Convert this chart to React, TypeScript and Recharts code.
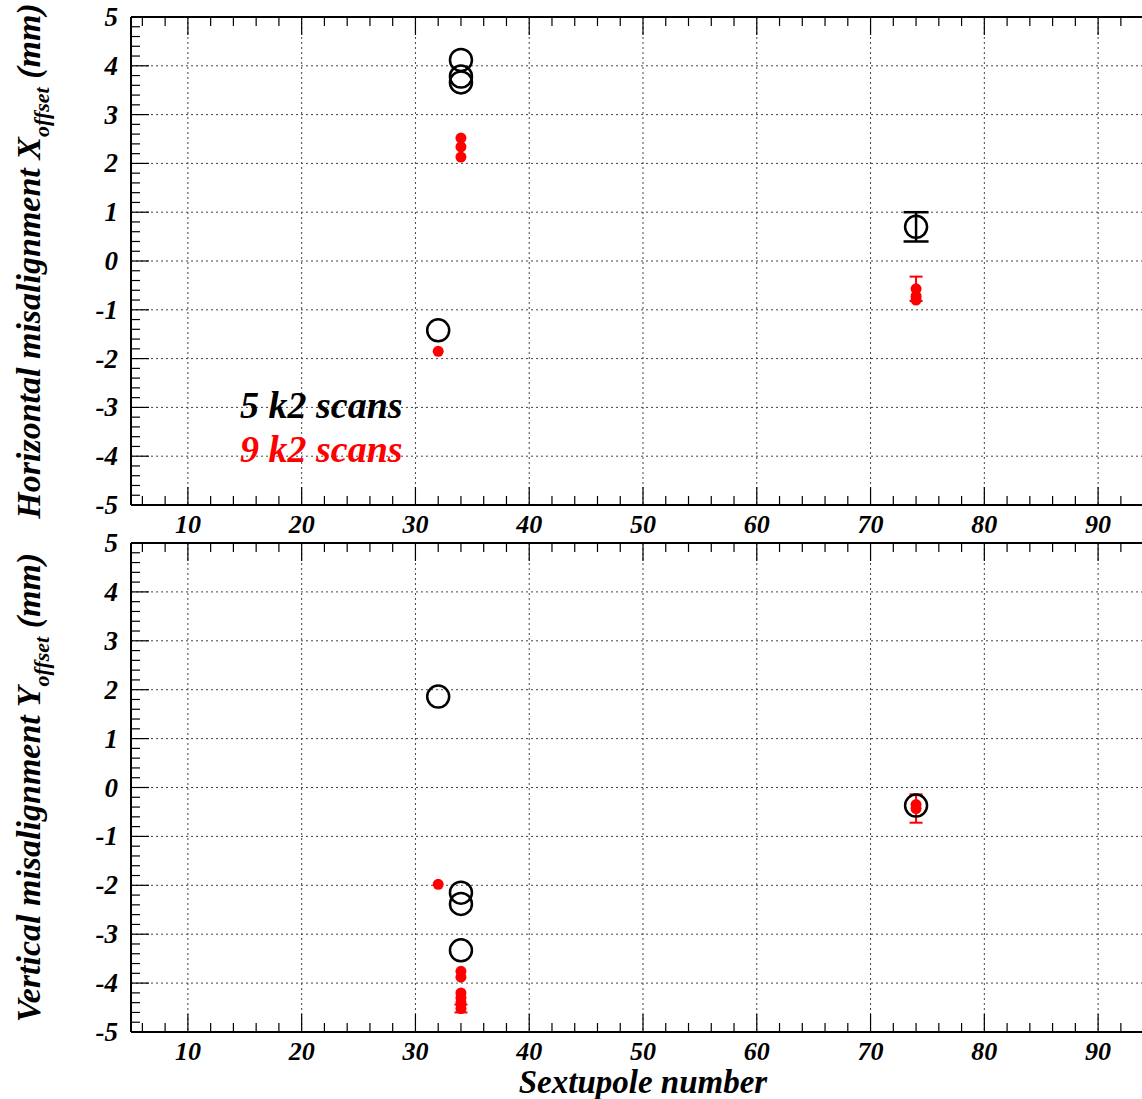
import React from "react";
import {
  ScatterChart,
  Scatter,
  XAxis,
  YAxis,
  CartesianGrid,
  ErrorBar,
  Legend,
} from "recharts";

const FONT = "'Liberation Serif', 'Times New Roman', serif";

// sextupole numbers and offsets (mm), horizontal plane
const horizX5 = [32, 34, 34, 34, 74];
const horizY5 = [-1.42, 4.12, 3.78, 3.66, 0.7];
const horizErr5 = [0, 0, 0, 0, 0.3];

const horizX9 = [32, 34, 34, 34, 74, 74, 74];
const horizY9 = [-1.85, 2.52, 2.34, 2.13, -0.57, -0.72, -0.8];
const horizErr9 = [0, 0, 0, 0, 0.25, 0, 0];

// vertical plane
const vertX5 = [32, 34, 34, 34, 74];
const vertY5 = [1.86, -2.15, -2.38, -3.33, -0.37];
const vertErr5 = [0, 0, 0, 0, 0];

const vertX9 = [32, 34, 34, 34, 34, 34, 34, 74, 74];
const vertY9 = [-1.98, -3.76, -3.88, -4.2, -4.3, -4.4, -4.52, -0.35, -0.43];
const vertErr9 = [0, 0, 0, 0, 0, 0, 0.08, 0, 0.29];

const xMajorTicks = [10, 20, 30, 40, 50, 60, 70, 80, 90];
const yMajorTicks = [-4, -3, -2, -1, 0, 1, 2, 3, 4];
const legendItems = [
  { label: "5 k2 scans", color: "#000000" },
  { label: "9 k2 scans", color: "#ff0000" },
];

const xTicks: number[] = [];
for (let v = 6; v <= 94; v += 2) xTicks.push(v);
const yTicks: number[] = [];
for (let i = -25; i <= 25; i++) yTicks.push(i / 5);

const toPoints = (xs: number[], ys: number[], errs: number[]) =>
  xs.map((x, i) => ({ x, y: ys[i], err: errs[i] || undefined }));

const isMajorX = (v: number) => v % 10 === 0;
const isMajorY = (v: number) => Math.abs(v - Math.round(v)) < 1e-6;

const BottomTick = (props: any) => {
  const { x, y, payload } = props;
  const major = isMajorX(payload.value);
  return (
    <g>
      <line x1={x} x2={x} y1={y} y2={y - (major ? 18 : 9)} stroke="#000" strokeWidth={1.2} />
      {major && (
        <text
          x={x}
          y={y + 28}
          textAnchor="middle"
          fontFamily={FONT}
          fontWeight="bold"
          fontStyle="italic"
          fontSize={26}
          fill="#000"
        >
          {payload.value}
        </text>
      )}
    </g>
  );
};

const TopTick = (props: any) => {
  const { x, y, payload } = props;
  const major = isMajorX(payload.value);
  return <line x1={x} x2={x} y1={y} y2={y + (major ? 18 : 9)} stroke="#000" strokeWidth={1.2} />;
};

const LeftTick = (props: any) => {
  const { x, y, payload } = props;
  const major = isMajorY(payload.value);
  return (
    <g>
      <line x1={x} x2={x + (major ? 18 : 9)} y1={y} y2={y} stroke="#000" strokeWidth={1.2} />
      {major && (
        <text
          x={x - 13}
          y={y + 9}
          textAnchor="end"
          fontFamily={FONT}
          fontWeight="bold"
          fontStyle="italic"
          fontSize={27}
          fill="#000"
        >
          {Math.round(payload.value)}
        </text>
      )}
    </g>
  );
};

const OpenCircle = (props: any) => (
  <circle cx={props.cx} cy={props.cy} r={11} fill="none" stroke="#000" strokeWidth={2.5} />
);
const RedDot = (props: any) => <circle cx={props.cx} cy={props.cy} r={5.5} fill="#ff0000" />;

const YTitle = ({ viewBox, main, letter }: any) => {
  const cx = 40;
  const cy = viewBox.y + viewBox.height / 2;
  return (
    <text
      x={cx}
      y={cy}
      transform={`rotate(-90 ${cx} ${cy})`}
      textAnchor="middle"
      fontFamily={FONT}
      fontWeight="bold"
      fontStyle="italic"
      fontSize={34}
      fill="#000"
    >
      {main} {letter}
      <tspan dy={9} fontSize={22}>offset</tspan>
      <tspan dy={-9}> (mm)</tspan>
    </text>
  );
};

const LegendBox = () => (
  <div style={{ fontFamily: FONT, fontWeight: "bold", fontStyle: "italic", fontSize: 38, lineHeight: "44px" }}>
    {legendItems.map((item) => (
      <div key={item.label} style={{ color: item.color, whiteSpace: "nowrap" }}>
        {item.label}
      </div>
    ))}
  </div>
);

interface PanelProps {
  black: { x: number; y: number; err?: number }[];
  red: { x: number; y: number; err?: number }[];
  height: number;
  marginTop: number;
  bottomHeight: number;
  plane: string;
  letter: string;
  xTitle?: string;
  showLegend?: boolean;
}

const Panel: React.FC<PanelProps> = ({ black, red, height, marginTop, bottomHeight, plane, letter, xTitle, showLegend }) => (
  <ScatterChart width={1155} height={height} margin={{ top: marginTop, right: 0, bottom: 0, left: 0 }}>
    <CartesianGrid
      horizontalValues={yMajorTicks}
      verticalValues={xMajorTicks}
      stroke="#444"
      strokeDasharray="2 3"
      strokeWidth={1}
    />
    <XAxis
      xAxisId="top"
      orientation="top"
      type="number"
      dataKey="x"
      domain={[5, 95]}
      allowDataOverflow
      ticks={xTicks}
      interval={0}
      height={1}
      tickSize={0}
      tickMargin={0}
      tickLine={false}
      axisLine={{ stroke: "#000", strokeWidth: 2 }}
      tick={(p: any) => <TopTick {...p} />}
    />
    <XAxis
      type="number"
      dataKey="x"
      domain={[5, 95]}
      allowDataOverflow
      ticks={xTicks}
      interval={0}
      height={bottomHeight}
      tickSize={0}
      tickMargin={0}
      tickLine={false}
      axisLine={{ stroke: "#000", strokeWidth: 2 }}
      tick={(p: any) => <BottomTick {...p} />}
      label={
        xTitle
          ? {
              content: ({ viewBox }: any) => (
                <text
                  x={viewBox.x + viewBox.width / 2}
                  y={viewBox.y + 61}
                  textAnchor="middle"
                  fontFamily={FONT}
                  fontWeight="bold"
                  fontStyle="italic"
                  fontSize={33}
                  fill="#000"
                >
                  {xTitle}
                </text>
              ),
            }
          : undefined
      }
    />
    <YAxis
      type="number"
      dataKey="y"
      domain={[-5, 5]}
      allowDataOverflow
      ticks={yTicks}
      interval={0}
      width={131}
      tickSize={0}
      tickMargin={0}
      tickLine={false}
      axisLine={{ stroke: "#000", strokeWidth: 2 }}
      tick={(p: any) => <LeftTick {...p} />}
      label={{ content: (p: any) => <YTitle {...p} main={plane} letter={letter} /> }}
    />
    {showLegend && (
      <Legend
        layout="vertical"
        align="center"
        verticalAlign="middle"
        wrapperStyle={{ left: 240, top: 383, width: "auto" }}
        content={() => <LegendBox />}
      />
    )}
    <Scatter name="5 k2 scans" data={black} shape={<OpenCircle />} isAnimationActive={false}>
      <ErrorBar dataKey="err" direction="y" width={12.5} stroke="#000" strokeWidth={2.5} />
    </Scatter>
    <Scatter name="9 k2 scans" data={red} shape={<RedDot />} isAnimationActive={false}>
      <ErrorBar dataKey="err" direction="y" width={6.5} stroke="#ff0000" strokeWidth={2} />
    </Scatter>
  </ScatterChart>
);

export default function App() {
  return (
    <div
      style={{
        position: "absolute",
        left: 0,
        top: 0,
        width: 1142,
        height: 1099,
        overflow: "hidden",
        background: "#fff",
      }}
    >
      <div style={{ position: "absolute", left: 0, top: 0 }}>
        <Panel
          black={toPoints(horizX5, horizY5, horizErr5)}
          red={toPoints(horizX9, horizY9, horizErr9)}
          height={540}
          marginTop={16}
          bottomHeight={35}
          plane="Horizontal misalignment"
          letter="X"
          showLegend
        />
      </div>
      <div style={{ position: "absolute", left: 0, top: 515 }}>
        <Panel
          black={toPoints(vertX5, vertY5, vertErr5)}
          red={toPoints(vertX9, vertY9, vertErr9)}
          height={584}
          marginTop={27}
          bottomHeight={67}
          plane="Vertical misalignment"
          letter="Y"
          xTitle="Sextupole number"
        />
      </div>
    </div>
  );
}
